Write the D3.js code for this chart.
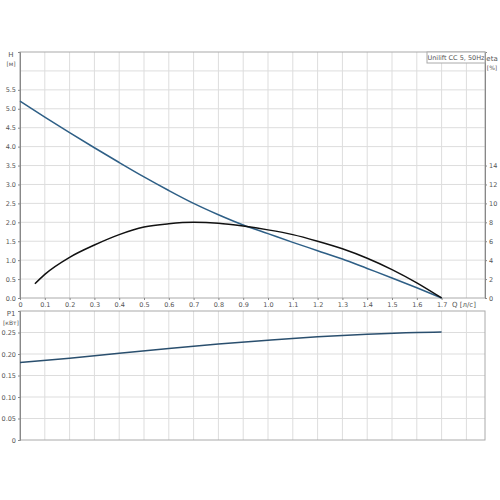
<!DOCTYPE html>
<html><head><meta charset="utf-8">
<script src="https://cdn.jsdelivr.net/npm/d3@7"></script>
<style>body{margin:0;background:#fff}text{font-family:"DejaVu Sans",sans-serif;fill:#555}</style>
</head><body><svg id="c" width="500" height="500"></svg>
<script>
// pump curves
var qH = [0, 0.1, 0.2, 0.3, 0.4, 0.5, 0.6, 0.7, 0.8, 0.9, 1.0, 1.1, 1.2, 1.3, 1.4, 1.5, 1.6, 1.7];
var hVals = [5.2, 4.78, 4.37, 3.97, 3.58, 3.2, 2.84, 2.5, 2.2, 1.93, 1.7, 1.47, 1.25, 1.03, 0.78, 0.53, 0.27, 0];
var qEta = [0.06, 0.1, 0.2, 0.3, 0.4, 0.5, 0.6, 0.7, 0.8, 0.9, 1.0, 1.1, 1.2, 1.3, 1.4, 1.5, 1.6, 1.7];
var etaVals = [1.5, 2.5, 4.3, 5.6, 6.7, 7.5, 7.85, 8.0, 7.9, 7.6, 7.2, 6.7, 6.0, 5.2, 4.2, 3.0, 1.6, 0];
var qP = [0, 0.2, 0.4, 0.6, 0.8, 1.0, 1.2, 1.4, 1.6, 1.7];
var pVals = [0.18, 0.19, 0.202, 0.213, 0.223, 0.232, 0.24, 0.246, 0.25, 0.251];
var xTicks = d3.range(0, 18).map(d => d / 10);
var hTicks = d3.range(0, 12).map(d => d / 2);
var etaTicks = [0, 2, 4, 6, 8, 10, 12, 14];
var pTicks = [0, 0.05, 0.10, 0.15, 0.20, 0.25];

var svg = d3.select("#c");
var x = d3.scaleLinear().domain([0, 1.875]).range([20, 485]);
var y = d3.scaleLinear().domain([0, 6.5]).range([298, 52]);
var yEta = d3.scaleLinear().domain([0, 26]).range([298, 52]);
var yP = d3.scaleLinear().domain([0, 0.3]).range([440, 311]);

function grid(y0, y1, ys, yScale) {
    var g = svg.append("g").attr("stroke", "#ddd");
    d3.range(0, 19).forEach(i => {
        g.append("line").attr("x1", x(i / 10)).attr("x2", x(i / 10)).attr("y1", y0).attr("y2", y1);
    });
    ys.forEach(v => {
        g.append("line").attr("x1", x(0)).attr("x2", 485).attr("y1", yScale(v)).attr("y2", yScale(v));
    });
    svg.append("rect").attr("x", x(0)).attr("y", y1).attr("width", 485 - x(0)).attr("height", y0 - y1)
        .attr("fill", "none").attr("stroke", "#aaa");
}
grid(298, 52, d3.range(1, 13).map(d => d / 2), y);
grid(440, 311, [0.05, 0.1, 0.15, 0.2, 0.25], yP);

function axis(gen, tx, ty, fmt) {
    var g = svg.append("g").attr("transform", `translate(${tx},${ty})`).call(gen.tickFormat(fmt).tickSize(2).tickPadding(2));
    g.selectAll("text").style("font-size", "6.5px").attr("fill", "#555");
    g.selectAll("line,path").attr("stroke", "#888");
    return g;
}
axis(d3.axisLeft(y).tickValues(hTicks), 20, 0, d3.format(".1f"));
axis(d3.axisRight(yEta).tickValues(etaTicks), 485, 0, d3.format("d"));
var xa = axis(d3.axisBottom(x).tickValues(xTicks), 0, 298, d => d == 0 ? "0" : d3.format(".1f")(d));
xa.select(".domain").remove();
axis(d3.axisLeft(yP).tickValues(pTicks), 20, 0, d => d == 0 ? "0" : d3.format(".2f")(d));

var line = (xs, ys, sy) => d3.line().curve(d3.curveMonotoneX).x((d, i) => x(xs[i])).y(d => sy(d))(ys);
svg.append("path").attr("d", line(qH, hVals, y)).attr("fill", "none").attr("stroke", "#2e5f86").attr("stroke-width", 1.5);
svg.append("path").attr("d", line(qEta, etaVals, yEta)).attr("fill", "none").attr("stroke", "#111").attr("stroke-width", 1.5);
svg.append("path").attr("d", line(qP, pVals, yP)).attr("fill", "none").attr("stroke", "#2a4f6e").attr("stroke-width", 1.5);

function txt(s, tx, ty, size, anchor) {
    svg.append("text").attr("x", tx).attr("y", ty).style("font-size", size + "px").attr("text-anchor", anchor || "middle").text(s);
}
txt("H", 11, 57, 7); txt("[м]", 11, 66, 6);
txt("eta", 492, 61, 7); txt("[%]", 492, 70, 6);
txt("Q [л/с]", 464, 307, 7);
txt("P1", 11, 316, 7); txt("[кВт]", 11, 325, 6);
svg.append("rect").attr("x", 427).attr("y", 52).attr("width", 58).attr("height", 11).attr("fill", "#fff").attr("stroke", "#aaa");
txt("Unilift CC 5, 50Hz", 456, 60, 6.5);
</script></body></html>
